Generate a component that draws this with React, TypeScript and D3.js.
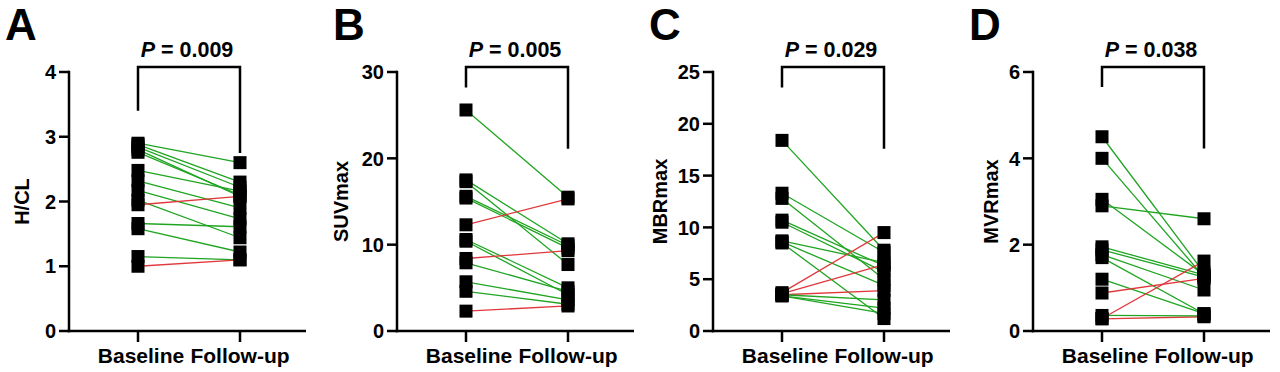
import React from 'react';
import * as d3 from 'd3';

// paired values (baseline -> follow-up)
const categories = ['Baseline', 'Follow-up'];

const hclBaseline = [2.9, 2.88, 2.84, 2.8, 2.76, 2.48, 2.32, 2.17, 2.02, 1.95, 1.66, 1.58, 1.15, 1.0];
const hclFollowup = [2.6, 2.3, 2.22, 2.08, 2.1, 2.16, 1.9, 1.73, 1.44, 2.08, 1.61, 1.22, 1.1, 1.1];

const suvBaseline = [25.6, 17.5, 17.3, 15.6, 15.4, 12.3, 10.6, 10.4, 8.4, 7.9, 5.7, 4.6, 2.3];
const suvFollowup = [15.5, 10.1, 7.7, 9.9, 9.6, 15.3, 5.0, 4.2, 9.3, 4.6, 3.6, 3.1, 2.9];

const mbrBaseline = [18.4, 13.3, 12.8, 10.7, 10.5, 8.7, 8.6, 8.5, 3.7, 3.6, 3.5, 3.5, 3.4, 3.4];
const mbrFollowup = [7.8, 7.6, 5.0, 6.3, 5.7, 6.6, 4.4, 1.2, 9.5, 6.4, 3.9, 3.0, 2.2, 1.7];

const mvrBaseline = [4.5, 4.0, 3.05, 2.9, 1.95, 1.88, 1.77, 1.7, 1.2, 0.88, 0.29, 0.28, 0.36];
const mvrFollowup = [1.35, 1.25, 1.3, 2.6, 1.3, 1.25, 0.95, 0.4, 0.4, 1.22, 1.62, 0.33, 0.35];

const panels = [
    { letter: 'A', title: 'H/CL', p: '0.009', max: 4, ticks: [0, 1, 2, 3, 4], base: hclBaseline, follow: hclFollowup, ax: 69, titleOff: 47, legs: [3.4, 2.75] },
    { letter: 'B', title: 'SUVmax', p: '0.005', max: 30, ticks: [0, 10, 20, 30], base: suvBaseline, follow: suvFollowup, ax: 397, titleOff: 56, legs: [28.2, 21.1] },
    { letter: 'C', title: 'MBRmax', p: '0.029', max: 25, ticks: [0, 5, 10, 15, 20, 25], base: mbrBaseline, follow: mbrFollowup, ax: 713, titleOff: 53, legs: [23.5, 17.6] },
    { letter: 'D', title: 'MVRmax', p: '0.038', max: 6, ticks: [0, 2, 4, 6], base: mvrBaseline, follow: mvrFollowup, ax: 1033, titleOff: 42, legs: [5.65, 4.23] },
];

const FONT = 'Arial, "Liberation Sans", sans-serif';
const GREEN = '#1fa521';
const RED = '#e0383c';
const TOP = 72;
const BOTTOM = 331;
const SQ = 13;

function Panel({ cfg }: { cfg: (typeof panels)[number] }) {
    const y = d3.scaleLinear().domain([0, cfg.max]).range([BOTTOM, TOP]);
    const x = d3.scalePoint().domain(categories).range([cfg.ax + 69, cfg.ax + 171]);
    const x0 = x(categories[0]) as number;
    const x1 = x(categories[1]) as number;
    const pairs = cfg.base.map((b, i) => ({ b, f: cfg.follow[i] }));

    return (
        <g>
            <text x={cfg.ax - 64} y={40} fontSize={44} fontWeight="bold" fontFamily={FONT}>
                {cfg.letter}
            </text>
            {/* y axis */}
            <line x1={cfg.ax} x2={cfg.ax} y1={TOP - 1.2} y2={BOTTOM + 1.2} stroke="#000" strokeWidth={2.5} />
            {cfg.ticks.map((t) => (
                <g key={t}>
                    <line x1={cfg.ax - 10} x2={cfg.ax} y1={y(t)} y2={y(t)} stroke="#000" strokeWidth={2.5} />
                    <text x={cfg.ax - 13} y={y(t)} dy="0.36em" textAnchor="end" fontSize={20} fontWeight="bold" fontFamily={FONT}>
                        {t}
                    </text>
                </g>
            ))}
            <text
                transform={`translate(${cfg.ax - cfg.titleOff},${(TOP + BOTTOM) / 2}) rotate(-90)`}
                dy="0.35em"
                textAnchor="middle"
                fontSize={20}
                fontWeight="bold"
                fontFamily={FONT}
            >
                {cfg.title}
            </text>
            {/* x axis */}
            <line x1={cfg.ax - 1.2} x2={cfg.ax + 237} y1={BOTTOM} y2={BOTTOM} stroke="#000" strokeWidth={2.5} />
            {categories.map((c) => (
                <g key={c}>
                    <line x1={x(c)} x2={x(c)} y1={BOTTOM} y2={BOTTOM + 11} stroke="#000" strokeWidth={2.5} />
                    <text x={(x(c) as number) + (c === 'Baseline' ? 3 : 0)} y={363} textAnchor="middle" fontSize={21} fontWeight="bold" fontFamily={FONT}>
                        {c}
                    </text>
                </g>
            ))}
            {/* paired lines */}
            {pairs.map((d, i) => (
                <line key={i} x1={x0} x2={x1} y1={y(d.b)} y2={y(d.f)} stroke={d.f > d.b ? RED : GREEN} strokeWidth={1.3} />
            ))}
            {pairs.map((d, i) => (
                <g key={'s' + i}>
                    <rect x={x0 - SQ / 2} y={y(d.b) - SQ / 2} width={SQ} height={SQ} fill="#000" />
                    <rect x={x1 - SQ / 2} y={y(d.f) - SQ / 2} width={SQ} height={SQ} fill="#000" />
                </g>
            ))}
            {/* significance bracket */}
            <path
                d={`M${x0},${y(cfg.legs[0])}V67H${x1}V${y(cfg.legs[1])}`}
                fill="none"
                stroke="#000"
                strokeWidth={2.5}
            />
            <text x={(x0 + x1) / 2 - 2} y={57} textAnchor="middle" fontSize={21.5} fontWeight="bold" fontFamily={FONT}>
                <tspan fontStyle="italic">P</tspan> = {cfg.p}
            </text>
        </g>
    );
}

export default function App() {
    return (
        <svg width={1280} height={372} style={{ position: 'absolute', left: 0, top: 0, background: '#fff' }}>
            <rect width={1280} height={372} fill="#fff" />
            {panels.map((p) => (
                <Panel key={p.letter} cfg={p} />
            ))}
        </svg>
    );
}
